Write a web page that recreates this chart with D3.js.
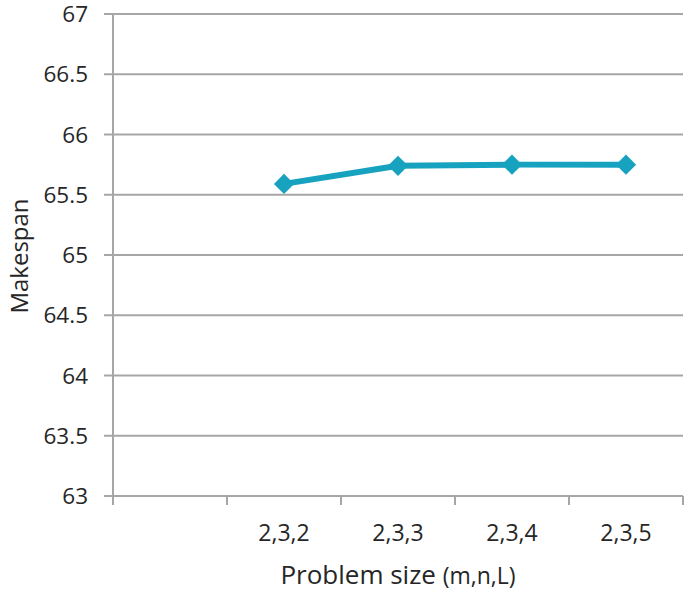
<!DOCTYPE html>
<html><head><meta charset="utf-8">
<script src="https://cdn.jsdelivr.net/npm/d3@7"></script>
<style>body{margin:0;background:#fff}svg{display:block}text{font-family:"Open Sans",sans-serif;fill:#262626}</style>
</head><body>
<script>
const categories = ["", "2,3,2", "2,3,3", "2,3,4", "2,3,5"];
const makespan = [null, 65.59, 65.74, 65.75, 65.75];
const yTicks = [63, 63.5, 64, 64.5, 65, 65.5, 66, 66.5, 67];

const W = 685, H = 592;
const svg = d3.select("body").append("svg").attr("width", W).attr("height", H);
const x = d3.scaleBand().domain(categories).range([113, 683]);
const y = d3.scaleLinear().domain([63, 67]).range([496, 14]);
const grid = "#a6a6a6";

svg.append("g").selectAll("line").data(yTicks).join("line")
  .attr("x1", 104).attr("x2", 683).attr("y1", d => y(d)).attr("y2", d => y(d))
  .attr("stroke", grid).attr("stroke-width", 2);
svg.append("line").attr("x1", 113).attr("x2", 113).attr("y1", y(67)).attr("y2", 505)
  .attr("stroke", grid).attr("stroke-width", 2);
const bounds = categories.map(c => x(c)).concat([x.range()[1]]);
svg.append("g").selectAll("line").data(bounds.slice(1)).join("line")
  .attr("x1", d => d).attr("x2", d => d).attr("y1", 496).attr("y2", 505)
  .attr("stroke", grid).attr("stroke-width", 2);
svg.append("g").selectAll("text").data(yTicks).join("text")
  .attr("x", 88).attr("y", d => y(d)).attr("dy", "0.36em").attr("text-anchor", "end")
  .attr("font-size", 22.5).text(d => d);
svg.append("g").selectAll("text").data(categories).join("text")
  .attr("x", d => x(d) + x.bandwidth() / 2).attr("y", 533).attr("dy", "0.36em").attr("text-anchor", "middle")
  .attr("font-size", 23).text(d => d);
svg.append("text").attr("transform", "translate(28,256) rotate(-90)").attr("text-anchor", "middle")
  .attr("font-size", 24).text("Makespan");
const xt = svg.append("text").attr("x", 398).attr("y", 575).attr("dy", "0.36em").attr("text-anchor", "middle").attr("font-size", 26);
xt.append("tspan").text("Problem size ");
xt.append("tspan").attr("font-size", 23).text("(m,n,L)");

const pts = categories.map((c, i) => ({c, v: makespan[i]})).filter(d => d.v != null);
const color = "#17a2bf";
svg.append("path").datum(pts)
  .attr("d", d3.line().x(d => x(d.c) + x.bandwidth() / 2).y(d => y(d.v)))
  .attr("fill", "none").attr("stroke", color).attr("stroke-width", 6).attr("stroke-linejoin", "round");
svg.append("g").selectAll("path").data(pts).join("path")
  .attr("transform", d => `translate(${x(d.c) + x.bandwidth() / 2},${y(d.v)})`)
  .attr("d", d3.symbol().type(d3.symbolDiamond2).size(260))
  .attr("fill", color);
</script>
</body></html>
